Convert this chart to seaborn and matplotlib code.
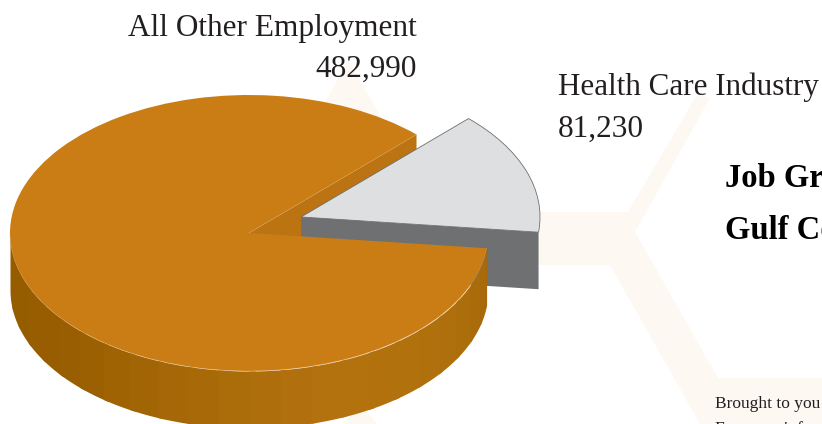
import numpy as np
import matplotlib
matplotlib.use('Agg')
import matplotlib.pyplot as plt
import seaborn as sns

categories = ['All Other Employment', 'Health Care Industry']
employment = [482990, 81230]
title_lines = ['Job Growth', 'Gulf Coast']
footer_lines = ['Brought to you by', 'For more information']

W, H = 822, 424
CX, CY = 249, 233      # pie centre in pixels
RX, RY = 239, 138      # ellipse radii in pixels
GRAY_CX, GRAY_CY = 301, 217
DEPTH = 57 / RY
START = 45.5

ORANGE = '#CA7D14'
ORANGE_IN = '#BC7312'
GRAY_TOP = '#DEDFE1'
GRAY_WALL = '#6F7072'
CREAM = '#FDF8F2'

sns.set_theme(style='white')
plt.rcParams['font.family'] = ['Liberation Serif', 'DejaVu Serif']


def px(x):
    return (x - CX) / RX


def py(y):
    return (CY - y) / RY


fig, ax = plt.subplots(figsize=(W / 100, H / 100), dpi=100)
fig.subplots_adjust(0, 0, 1, 1)

# faint hexagon shapes behind the pie
back_shapes = [
    [(530, 212), (628, 212), (697, 95), (710, 98), (635, 232), (718, 378),
     (822, 378), (822, 424), (700, 424), (610, 265), (530, 265)],
    [(300, 150), (348, 60), (400, 150)],
    [(343, 424), (360, 404), (377, 424)],
]
for shape in back_shapes:
    ax.fill([px(p[0]) for p in shape], [py(p[1]) for p in shape], color=CREAM, lw=0, zorder=0)

share = np.array(employment) / sum(employment)
orange_end = START + 360 * share[0]

# inner wall of the orange slice, seen through the gap
a = np.radians(START)
ax.fill([0, np.cos(a), np.cos(a), 0], [0, np.sin(a), np.sin(a) - DEPTH, -DEPTH],
        color=ORANGE_IN, lw=0, zorder=1)

# gray slice, pulled out of the pie
dx, dy = px(GRAY_CX), py(GRAY_CY)
b = np.radians(orange_end)
ax.fill([dx, dx + np.cos(b), dx + np.cos(b), dx],
        [dy, dy + np.sin(b), dy + np.sin(b) - DEPTH, dy - DEPTH],
        color=GRAY_WALL, lw=0, zorder=2)
gray_wedges, _ = ax.pie(employment, startangle=START, center=(dx, dy), radius=1,
                        colors=[ORANGE, GRAY_TOP],
                        wedgeprops=dict(edgecolor='#6E6F71', linewidth=0.6))
gray_wedges[0].set_visible(False)
gray_wedges[1].set_zorder(3)

# outer wall of the orange slice, strips overlap so no seams show
wall_cmap = sns.blend_palette(['#965C00', '#975D00', '#A66808', '#B4720E', '#B0700C', '#A5680A'], as_cmap=True)
steps = np.arange(180, orange_end, 7.5).tolist() + [orange_end]
for t0, t1 in zip(steps[:-1], steps[1:]):
    t = np.radians(np.linspace(t0, min(t1 + 1.5, orange_end), 12))
    col = wall_cmap((t0 - 180) / (orange_end - 180))
    ax.fill_between(np.cos(t), np.sin(t), np.sin(t) - DEPTH, color=col, lw=0, zorder=4)

orange_wedges, _ = ax.pie(employment, startangle=START, radius=1,
                          colors=[ORANGE, GRAY_TOP], wedgeprops=dict(linewidth=0))
orange_wedges[1].set_visible(False)
orange_wedges[0].set_zorder(5)

# thin light rim on the front edge
t = np.radians(np.linspace(180, orange_end, 120))
ax.plot(np.cos(t), np.sin(t), color='#E0A860', lw=0.5, alpha=0.5, zorder=6)
ax.plot([0, np.cos(a)], [0, np.sin(a)], color='#E0A860', lw=0.4, alpha=0.5, zorder=6)

ax.set_aspect('auto')
ax.set_xlim(px(0), px(W))
ax.set_ylim(py(H), py(0))
ax.axis('off')

ax.text(px(417), py(36), categories[0], ha='right', va='baseline', fontsize=22.5, color='#231F20')
ax.text(px(417), py(77), f'{employment[0]:,}', ha='right', va='baseline', fontsize=22.5, color='#231F20')
ax.text(px(558), py(95), categories[1], ha='left', va='baseline', fontsize=22.4, color='#231F20', zorder=7)
ax.text(px(558), py(137), f'{employment[1]:,}', ha='left', va='baseline', fontsize=22.5, color='#231F20')

ax.text(px(725), py(187), title_lines[0], ha='left', va='baseline', fontsize=23.5, fontweight='bold', color='black')
ax.text(px(725), py(239), title_lines[1], ha='left', va='baseline', fontsize=23.5, fontweight='bold', color='black')

ax.text(px(715), py(408), footer_lines[0], ha='left', va='baseline', fontsize=12.5, color='#231F20')
ax.text(px(715), py(433), footer_lines[1], ha='left', va='baseline', fontsize=12.5, color='#231F20')

fig.savefig('out.png', dpi=100)
